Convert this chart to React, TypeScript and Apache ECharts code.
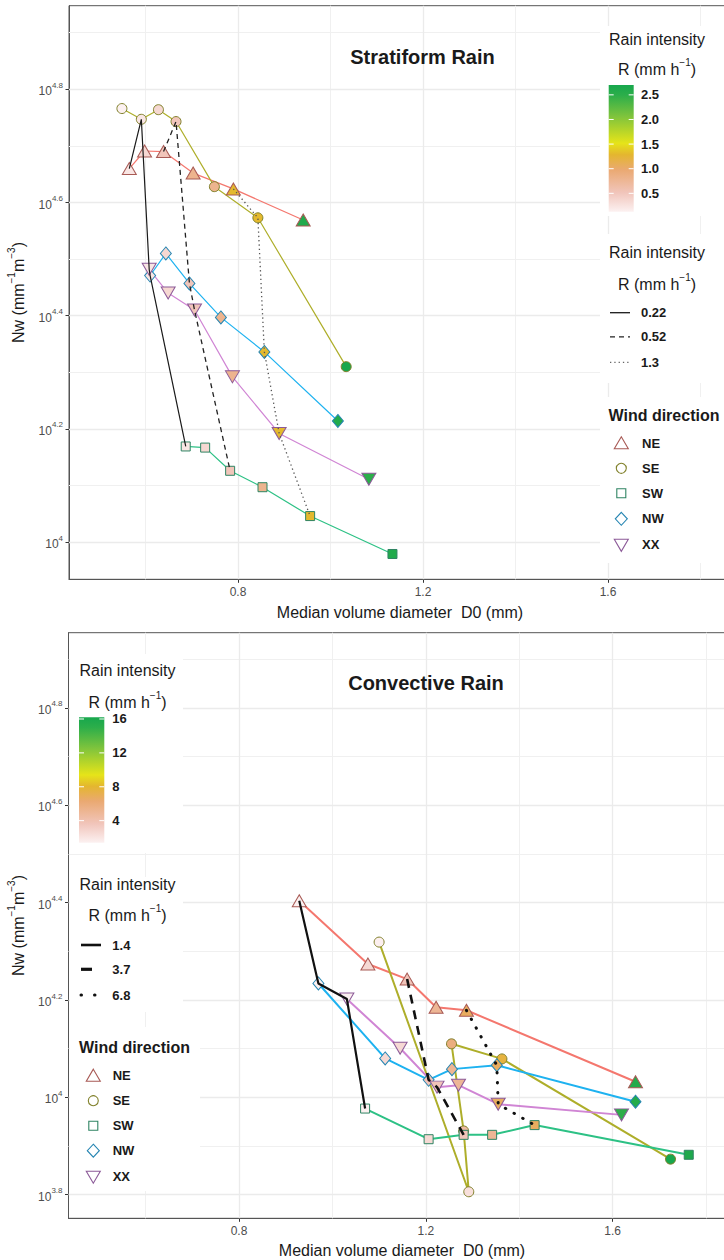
import React, { useEffect, useRef } from 'react';
import * as echarts from 'echarts';

// Each observation: [median volume diameter D0 (mm), log10 Nw, rain intensity R (mm h-1)]
type Obs = [number, number, number];

// ---- Stratiform rain, one array per wind direction (ordered by rain-intensity class)
const stratiformNE: Obs[] = [[0.565, 4.660, 0.22], [0.598, 4.691, 0.35], [0.639, 4.690, 0.52], [0.703, 4.652, 0.8], [0.790, 4.624, 1.3], [0.941, 4.569, 2.6]];
const stratiformSE: Obs[] = [[0.549, 4.766, 0.127], [0.591, 4.747, 0.22], [0.628, 4.764, 0.35], [0.666, 4.743, 0.52], [0.749, 4.628, 0.8], [0.843, 4.573, 1.3], [1.034, 4.310, 2.7]];
const stratiformSW: Obs[] = [[0.687, 4.169, 0.22], [0.729, 4.167, 0.35], [0.783, 4.126, 0.52], [0.853, 4.097, 0.8], [0.956, 4.046, 1.3], [1.134, 3.979, 2.6]];
const stratiformNW: Obs[] = [[0.610, 4.471, 0.22], [0.644, 4.510, 0.35], [0.695, 4.457, 0.52], [0.763, 4.397, 0.8], [0.857, 4.336, 1.3], [1.016, 4.214, 2.6]];
const stratiformXX: Obs[] = [[0.608, 4.482, 0.22], [0.649, 4.440, 0.35], [0.706, 4.410, 0.52], [0.788, 4.292, 0.8], [0.889, 4.192, 1.3], [1.083, 4.111, 2.5]];

// ---- Convective rain
const convectiveNE: Obs[] = [[0.929, 4.404, 1.4], [1.076, 4.274, 2.6], [1.160, 4.243, 3.7], [1.222, 4.185, 5.0], [1.287, 4.179, 6.8], [1.649, 4.032, 15.5]];
const convectiveSE: Obs[] = [[1.100, 4.319, 1.5], [1.292, 3.806, 2.3], [1.281, 3.931, 4.6], [1.255, 4.110, 5.8], [1.363, 4.079, 7.6], [1.724, 3.873, 16.2]];
const convectiveSW: Obs[] = [[1.070, 3.977, 1.4], [1.206, 3.914, 2.6], [1.281, 3.923, 3.7], [1.342, 3.923, 5.0], [1.433, 3.943, 6.8], [1.763, 3.882, 15.8]];
const convectiveNW: Obs[] = [[0.970, 4.234, 1.4], [1.113, 4.080, 2.6], [1.206, 4.036, 3.7], [1.256, 4.058, 5.0], [1.352, 4.066, 6.8], [1.649, 3.991, 15.5]];
const convectiveXX: Obs[] = [[1.031, 4.202, 1.4], [1.145, 4.101, 2.6], [1.224, 4.021, 3.7], [1.270, 4.025, 5.0], [1.355, 3.986, 6.8], [1.619, 3.964, 15.0]];

const windDirections = ['NE', 'SE', 'SW', 'NW', 'XX'];

// Rain intensities joined across wind directions by black lines
const stratiformLevels = [0.22, 0.52, 1.3];
const convectiveLevels = [1.4, 3.7, 6.8];

// Colour-bar labels
const stratiformBarTicks = [0.5, 1.0, 1.5, 2.0, 2.5];
const convectiveBarTicks = [4, 8, 12, 16];

// Axis ticks and grid lines
const xTicks = [0.8, 1.2, 1.6];
const xMinor = [0.6, 1.0, 1.4, 1.8];
const stratiformYTicks = [4.0, 4.2, 4.4, 4.6, 4.8];
const stratiformYMinor = [4.1, 4.3, 4.5, 4.7, 4.9];
const convectiveYTicks = [3.8, 4.0, 4.2, 4.4, 4.6, 4.8];
const convectiveYMinor = [3.9, 4.1, 4.3, 4.5, 4.7, 4.9];

const FONT = '"Liberation Sans", Arial, Helvetica, sans-serif';
const INK = '#1a1a1a';
const AXIS_GREY = '#4d4d4d';

// The panels run a little past the right edge of the page, so the chart canvas is wider than the view.
const VIEW_W = 724;
const CHART_W = 745;
const CHART_H = 1260;

const directionStyle: Record<string, any> = {
  NE: { line: '#F4776E', edge: '#A85A55', symbol: 'triangle', rotate: 0, size: [14, 12] },
  SE: { line: '#AEAE2A', edge: '#80802A', symbol: 'circle', rotate: 0, size: 10 },
  SW: { line: '#2DC185', edge: '#2F8463', symbol: 'rect', rotate: 0, size: 9 },
  NW: { line: '#1EB2F0', edge: '#2585B2', symbol: 'diamond', rotate: 0, size: [11, 13] },
  XX: { line: '#D085D4', edge: '#8C5A98', symbol: 'triangle', rotate: 180, size: [14, 12] },
};

// Fill palette along the rain-intensity range (0 = lowest, 1 = highest)
const paletteStops: [number, string][] = [
  [0.0, '#FCF1F1'],
  [0.15, '#F1C5BB'],
  [0.33, '#EAA972'],
  [0.45, '#E4B62F'],
  [0.54, '#E6E419'],
  [0.75, '#80C43C'],
  [0.92, '#2CAE4A'],
  [1.0, '#17A74D'],
];

function hexToRgb(h: string) {
  const n = parseInt(h.slice(1), 16);
  return [(n >> 16) & 255, (n >> 8) & 255, n & 255];
}

function paletteAt(t: number) {
  const u = Math.max(0, Math.min(1, t));
  for (let i = 1; i < paletteStops.length; i++) {
    const [o1, c1] = paletteStops[i - 1];
    const [o2, c2] = paletteStops[i];
    if (u <= o2) {
      const f = (u - o1) / (o2 - o1);
      const a = hexToRgb(c1);
      const b = hexToRgb(c2);
      return `rgb(${a.map((v, k) => Math.round(v + (b[k] - v) * f)).join(',')})`;
    }
  }
  return paletteStops[paletteStops.length - 1][1];
}

const supRich = (size: number, sub: number, lh: number, weight = 'normal') => ({
  t: { fontSize: size, fontFamily: FONT, fontWeight: weight, fill: INK, lineHeight: lh, verticalAlign: 'bottom' },
  s: { fontSize: sub, fontFamily: FONT, fill: INK, lineHeight: lh, verticalAlign: 'top' },
});

interface Panel {
  title: string;
  titleX: number;
  titleY: number;
  groups: Obs[][];
  levels: number[];
  barTicks: number[];
  yTicks: number[];
  yMinor: number[];
  grid: { left: number; top: number; width: number; height: number };
  xRange: [number, number];
  yRange: [number, number];
  groupWidth: number;
  levelStyles: any[];
  keyDash: any[];
  boxes: number[][];
  textCenter: number;
  textLeft: number;
  title1Y: number;
  sub1Y: number;
  bar: { x: number; y: number; w: number; h: number };
  barLabelX: number;
  title2Y: number;
  sub2Y: number;
  keyX: [number, number];
  keyYs: number[];
  title3Y: number;
  itemYs: number[];
  glyphX: number;
  itemLabelX: number;
  xTitleY: number;
  xTitleX: number;
  yTitleY: number;
}

const panels: Panel[] = [
  {
    title: 'Stratiform Rain', titleX: 422.5, titleY: 57,
    groups: [stratiformNE, stratiformSE, stratiformSW, stratiformNW, stratiformXX],
    levels: stratiformLevels, barTicks: stratiformBarTicks,
    yTicks: stratiformYTicks, yMinor: stratiformYMinor,
    grid: { left: 69, top: 5.7, width: 662, height: 573.6 },
    xRange: [0.4346, 1.866], yRange: [3.9343, 4.9477],
    groupWidth: 1.2,
    levelStyles: [
      { color: '#1a1a1a', width: 1.2, type: 'solid' },
      { color: '#222222', width: 1.3, type: [5, 4] },
      { color: '#555555', width: 1.3, type: [1.3, 3] },
    ],
    keyDash: [
      { color: '#1a1a1a', width: 1.3, dash: null },
      { color: '#222222', width: 1.3, dash: [5, 4] },
      { color: '#666666', width: 1.3, dash: [1.3, 3] },
    ],
    boxes: [[600, 26, 150, 190], [600, 234, 150, 149], [600, 397, 150, 166]],
    textCenter: 657, textLeft: 608.5,
    title1Y: 39, sub1Y: 67,
    bar: { x: 608.7, y: 85, w: 25, h: 126.7 }, barLabelX: 641,
    title2Y: 252.3, sub2Y: 282,
    keyX: [610, 630], keyYs: [312.7, 336.9, 362.3],
    title3Y: 415, itemYs: [443.3, 468.3, 493.3, 518.8, 544.8],
    glyphX: 621.3, itemLabelX: 642,
    xTitleY: 612, xTitleX: 400, yTitleY: 292.5,
  },
  {
    title: 'Convective Rain', titleX: 426, titleY: 683.3,
    groups: [convectiveNE, convectiveSE, convectiveSW, convectiveNW, convectiveXX],
    levels: convectiveLevels, barTicks: convectiveBarTicks,
    yTicks: convectiveYTicks, yMinor: convectiveYMinor,
    grid: { left: 68.5, top: 632.7, width: 667.5, height: 585.6 },
    xRange: [0.4349, 1.8642], yRange: [3.7515, 4.9547],
    groupWidth: 2,
    levelStyles: [
      { color: '#111111', width: 2.2, type: 'solid' },
      { color: '#111111', width: 2.6, type: [9, 7] },
      { color: '#111111', width: 3, type: [0.5, 9.5], cap: 'round' },
    ],
    keyDash: [
      { color: '#111111', width: 2.6, dash: null },
      { color: '#111111', width: 3.2, dash: [11, 20] },
      { color: '#111111', width: 3, dash: [0.5, 13], cap: 'round' },
    ],
    boxes: [[70, 654, 113, 199], [70, 877, 113, 135], [70, 1027, 130, 164]],
    textCenter: 127.5, textLeft: 79,
    title1Y: 670.7, sub1Y: 700.5,
    bar: { x: 79, y: 717.3, w: 25.3, h: 125.4 }, barLabelX: 112.3,
    title2Y: 884.3, sub2Y: 913,
    keyX: [81, 101], keyYs: [945, 969.3, 995],
    title3Y: 1047.3, itemYs: [1075.7, 1100.7, 1125.7, 1150.7, 1176.7],
    glyphX: 93.3, itemLabelX: 112.7,
    xTitleY: 1250, xTitleX: 402, yTitleY: 925.5,
  },
];

function glyph(dir: string, cx: number, cy: number): any {
  const st = directionStyle[dir];
  const style = { fill: '#ffffff', stroke: st.edge, lineWidth: 1.1 };
  const common = { z: 12, silent: true, style };
  if (dir === 'NE') return { type: 'polygon', ...common, shape: { points: [[cx, cy - 6.5], [cx + 7, cy + 5.5], [cx - 7, cy + 5.5]] } };
  if (dir === 'XX') return { type: 'polygon', ...common, shape: { points: [[cx - 7, cy - 5.5], [cx + 7, cy - 5.5], [cx, cy + 6.5]] } };
  if (dir === 'SE') return { type: 'circle', ...common, shape: { cx, cy, r: 5 } };
  if (dir === 'SW') return { type: 'rect', ...common, shape: { x: cx - 4.5, y: cy - 4.5, width: 9, height: 9 } };
  return { type: 'polygon', ...common, shape: { points: [[cx, cy - 6.5], [cx + 6, cy], [cx, cy + 6.5], [cx - 6, cy]] } };
}

function textEl(x: number, y: number, text: string, font: string, align = 'left', extra: any = {}) {
  return {
    type: 'text', x, y, z: 12, silent: true,
    style: { text, font, fill: INK, align, verticalAlign: 'middle', ...extra },
  };
}

function buildOption() {
  const grids: any[] = [];
  const xAxes: any[] = [];
  const yAxes: any[] = [];
  const series: any[] = [];
  const graphic: any[] = [];

  panels.forEach((P, pi) => {
    const allR = P.groups.flat().map((o) => o[2]);
    const rMin = Math.min(...allR);
    const rMax = Math.max(...allR);
    const fillOf = (r: number) => paletteAt((r - rMin) / (rMax - rMin));

    grids.push({ ...P.grid, show: true, borderColor: '#555555', borderWidth: 1, containLabel: false });

    xAxes.push({
      type: 'value', gridIndex: pi, min: P.xRange[0], max: P.xRange[1],
      splitLine: { show: false },
      axisLine: { show: true, lineStyle: { color: '#555555', width: 1 } },
      axisTick: { show: true, customValues: xTicks, length: 3.5, lineStyle: { color: '#333333', width: 1 } },
      axisLabel: {
        customValues: xTicks, margin: 7, color: AXIS_GREY, fontSize: 12, fontFamily: FONT,
        formatter: (v: number) => v.toFixed(1),
      },
    });

    yAxes.push({
      type: 'value', gridIndex: pi, min: P.yRange[0], max: P.yRange[1],
      splitLine: { show: false },
      axisLine: { show: true, lineStyle: { color: '#555555', width: 1 } },
      axisTick: { show: true, customValues: P.yTicks, length: 3.5, lineStyle: { color: '#333333', width: 1 } },
      axisLabel: {
        customValues: P.yTicks, margin: 6,
        formatter: (v: number) => `{b|10}{s|${String(Math.round(v * 10) / 10)}}`,
        rich: {
          b: { fontSize: 12, fontFamily: FONT, color: AXIS_GREY, lineHeight: 16, verticalAlign: 'bottom' },
          s: { fontSize: 8, fontFamily: FONT, color: AXIS_GREY, lineHeight: 16, verticalAlign: 'top' },
        },
      },
    });

    // grid lines
    const major = { color: '#EBEBEB', width: 1.3, type: 'solid' };
    const minor = { color: '#F0F0F0', width: 1, type: 'solid' };
    series.push({
      type: 'line', name: `grid-${pi}`, xAxisIndex: pi, yAxisIndex: pi, data: [], silent: true, z: 1,
      markLine: {
        silent: true, symbol: ['none', 'none'], label: { show: false }, emphasis: { disabled: true },
        data: [
          ...xMinor.map((v) => ({ xAxis: v, lineStyle: minor })),
          ...P.yMinor.map((v) => ({ yAxis: v, lineStyle: minor })),
          ...xTicks.map((v) => ({ xAxis: v, lineStyle: major })),
          ...P.yTicks.map((v) => ({ yAxis: v, lineStyle: major })),
        ],
      },
    });

    // per-direction paths
    P.groups.forEach((obs, gi) => {
      const st = directionStyle[windDirections[gi]];
      series.push({
        type: 'line', name: `${windDirections[gi]}-path-${pi}`, xAxisIndex: pi, yAxisIndex: pi,
        data: obs.map((o) => [o[0], o[1]]), symbol: 'none', silent: true, z: 6,
        lineStyle: { color: st.line, width: P.groupWidth },
      });
    });

    // points filled by rain intensity
    P.groups.forEach((obs, gi) => {
      const st = directionStyle[windDirections[gi]];
      series.push({
        type: 'scatter', name: `${windDirections[gi]}-${pi}`, xAxisIndex: pi, yAxisIndex: pi,
        symbol: st.symbol, symbolSize: st.size, symbolRotate: st.rotate, silent: true, z: 7,
        itemStyle: { borderColor: st.edge, borderWidth: 1, opacity: 1 },
        data: obs.map((o) => ({ value: [o[0], o[1]], itemStyle: { color: fillOf(o[2]) } })),
      });
    });

    // equal rain-intensity lines across wind directions, ordered by D0
    P.levels.forEach((lv, li) => {
      const pts = P.groups.flat().filter((o) => Math.abs(o[2] - lv) < 1e-9).sort((a, b) => a[0] - b[0]);
      const ls = P.levelStyles[li];
      series.push({
        type: 'line', name: `R-${lv}`, xAxisIndex: pi, yAxisIndex: pi, silent: true, z: 8,
        data: pts.map((o) => [o[0], o[1]]), symbol: 'none',
        lineStyle: { color: ls.color, width: ls.width, type: ls.type, cap: ls.cap || 'butt' },
      });
    });

    // ---- annotations
    graphic.push(textEl(P.titleX, P.titleY, P.title, `bold 20px ${FONT}`, 'center'));
    graphic.push(textEl(P.xTitleX, P.xTitleY, 'Median volume diameter  D0 (mm)', `16px ${FONT}`, 'center'));
    graphic.push({
      type: 'text', x: 16, y: P.yTitleY, rotation: Math.PI / 2, z: 12, silent: true,
      style: {
        text: '{t|Nw (mm}{s|−1}{t|m}{s|−3}{t|)}', rich: supRich(16, 10, 20),
        align: 'center', verticalAlign: 'middle',
      },
    });

    // legend backgrounds
    P.boxes.forEach((b) => graphic.push({
      type: 'rect', z: 10, silent: true, shape: { x: b[0], y: b[1], width: b[2], height: b[3] }, style: { fill: '#ffffff' },
    }));

    // colour bar legend
    graphic.push(textEl(P.textCenter, P.title1Y, 'Rain intensity', `16px ${FONT}`, 'center'));
    graphic.push({
      type: 'text', x: P.textCenter, y: P.sub1Y, z: 12, silent: true,
      style: { text: '{t|R (mm h}{s|−1}{t|)}', rich: supRich(16, 10, 20), align: 'center', verticalAlign: 'middle' },
    });
    const B = P.bar;
    graphic.push({
      type: 'rect', z: 11, silent: true, shape: { x: B.x, y: B.y, width: B.w, height: B.h },
      style: {
        fill: new echarts.graphic.LinearGradient(0, 1, 0, 0, paletteStops.map(([o, c]) => ({ offset: o, color: c }))),
      },
    });
    P.barTicks.forEach((v) => {
      const y = B.y + B.h - ((v - rMin) / (rMax - rMin)) * B.h;
      graphic.push({ type: 'line', z: 12, silent: true, shape: { x1: B.x, y1: y, x2: B.x + 5, y2: y }, style: { stroke: '#ffffff', lineWidth: 1 } });
      graphic.push({ type: 'line', z: 12, silent: true, shape: { x1: B.x + B.w - 5, y1: y, x2: B.x + B.w, y2: y }, style: { stroke: '#ffffff', lineWidth: 1 } });
      const label = P.barTicks.some((t) => !Number.isInteger(t)) ? v.toFixed(1) : String(v);
      graphic.push(textEl(P.barLabelX, y, label, `bold 13px ${FONT}`));
    });

    // line-type legend
    graphic.push(textEl(P.textCenter, P.title2Y, 'Rain intensity', `16px ${FONT}`, 'center'));
    graphic.push({
      type: 'text', x: P.textCenter, y: P.sub2Y, z: 12, silent: true,
      style: { text: '{t|R (mm h}{s|−1}{t|)}', rich: supRich(16, 10, 20), align: 'center', verticalAlign: 'middle' },
    });
    P.levels.forEach((lv, li) => {
      const k = P.keyDash[li];
      const y = P.keyYs[li];
      graphic.push({
        type: 'line', z: 12, silent: true, shape: { x1: P.keyX[0], y1: y, x2: P.keyX[1], y2: y },
        style: { stroke: k.color, lineWidth: k.width, lineDash: k.dash || undefined, lineCap: k.cap || 'butt' },
      });
      graphic.push(textEl(P.barLabelX, y, String(lv), `bold 13px ${FONT}`));
    });

    // wind direction legend
    graphic.push(textEl(P.textLeft, P.title3Y, 'Wind direction', `bold 16px ${FONT}`));
    windDirections.forEach((d, di) => {
      graphic.push(glyph(d, P.glyphX, P.itemYs[di]));
      graphic.push(textEl(P.itemLabelX, P.itemYs[di], d, `bold 13px ${FONT}`));
    });
  });

  return {
    animation: false,
    backgroundColor: '#ffffff',
    textStyle: { fontFamily: FONT },
    grid: grids,
    xAxis: xAxes,
    yAxis: yAxes,
    series,
    graphic: { elements: graphic },
  };
}

export default function App() {
  const ref = useRef<HTMLDivElement>(null);
  useEffect(() => {
    if (!ref.current) return;
    const chart = echarts.init(ref.current, null, { renderer: 'svg', width: CHART_W, height: CHART_H });
    chart.setOption(buildOption() as any);
    return () => chart.dispose();
  }, []);
  return (
    <div
      style={{ position: 'absolute', left: 0, top: 0, width: VIEW_W, height: CHART_H, overflow: 'hidden', background: '#ffffff' }}
    >
      <div ref={ref} style={{ width: CHART_W, height: CHART_H }} />
    </div>
  );
}
